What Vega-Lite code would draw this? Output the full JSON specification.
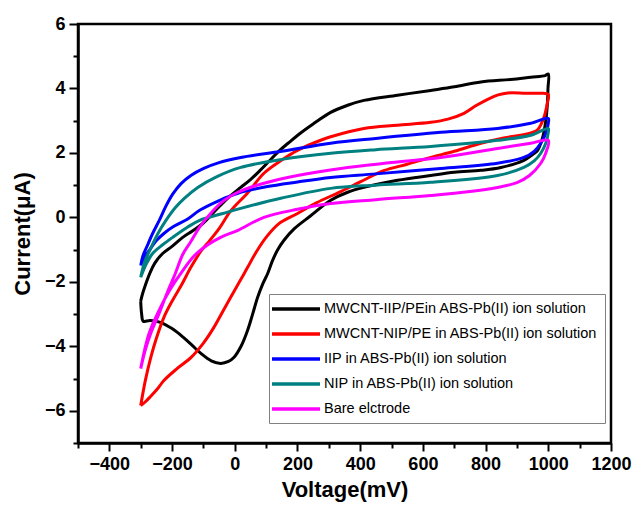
{
  "$schema": "https://vega.github.io/schema/vega-lite/v6.json",
  "width": 533,
  "height": 419,
  "autosize": "none",
  "padding": {"left": 78, "top": 24, "right": 24, "bottom": 65},
  "background": "white",
  "config": {
    "view": {"stroke": "black", "strokeWidth": 2.5},
    "font": "Liberation Sans"
  },
  "datasets": {
    "cv": [
      {"s":"MWCNT-IIP/PEin ABS-Pb(II) ion solution","i":0,"v":-300,"c":-2.6},
      {"s":"MWCNT-IIP/PEin ABS-Pb(II) ion solution","i":1,"v":-297,"c":-3.0},
      {"s":"MWCNT-IIP/PEin ABS-Pb(II) ion solution","i":2,"v":-292,"c":-3.22},
      {"s":"MWCNT-IIP/PEin ABS-Pb(II) ion solution","i":3,"v":-270,"c":-3.2},
      {"s":"MWCNT-IIP/PEin ABS-Pb(II) ion solution","i":4,"v":-240,"c":-3.25},
      {"s":"MWCNT-IIP/PEin ABS-Pb(II) ion solution","i":5,"v":-200,"c":-3.45},
      {"s":"MWCNT-IIP/PEin ABS-Pb(II) ion solution","i":6,"v":-163,"c":-3.73},
      {"s":"MWCNT-IIP/PEin ABS-Pb(II) ion solution","i":7,"v":-135,"c":-3.98},
      {"s":"MWCNT-IIP/PEin ABS-Pb(II) ion solution","i":8,"v":-108,"c":-4.22},
      {"s":"MWCNT-IIP/PEin ABS-Pb(II) ion solution","i":9,"v":-75,"c":-4.45},
      {"s":"MWCNT-IIP/PEin ABS-Pb(II) ion solution","i":10,"v":-45,"c":-4.53},
      {"s":"MWCNT-IIP/PEin ABS-Pb(II) ion solution","i":11,"v":-20,"c":-4.47},
      {"s":"MWCNT-IIP/PEin ABS-Pb(II) ion solution","i":12,"v":-3,"c":-4.35},
      {"s":"MWCNT-IIP/PEin ABS-Pb(II) ion solution","i":13,"v":20,"c":-4.0},
      {"s":"MWCNT-IIP/PEin ABS-Pb(II) ion solution","i":14,"v":41,"c":-3.5},
      {"s":"MWCNT-IIP/PEin ABS-Pb(II) ion solution","i":15,"v":57,"c":-3.0},
      {"s":"MWCNT-IIP/PEin ABS-Pb(II) ion solution","i":16,"v":73,"c":-2.48},
      {"s":"MWCNT-IIP/PEin ABS-Pb(II) ion solution","i":17,"v":90,"c":-2.05},
      {"s":"MWCNT-IIP/PEin ABS-Pb(II) ion solution","i":18,"v":105,"c":-1.74},
      {"s":"MWCNT-IIP/PEin ABS-Pb(II) ion solution","i":19,"v":120,"c":-1.35},
      {"s":"MWCNT-IIP/PEin ABS-Pb(II) ion solution","i":20,"v":136,"c":-1.02},
      {"s":"MWCNT-IIP/PEin ABS-Pb(II) ion solution","i":21,"v":157,"c":-0.71},
      {"s":"MWCNT-IIP/PEin ABS-Pb(II) ion solution","i":22,"v":190,"c":-0.35},
      {"s":"MWCNT-IIP/PEin ABS-Pb(II) ion solution","i":23,"v":242,"c":0.05},
      {"s":"MWCNT-IIP/PEin ABS-Pb(II) ion solution","i":24,"v":306,"c":0.53},
      {"s":"MWCNT-IIP/PEin ABS-Pb(II) ion solution","i":25,"v":360,"c":0.78},
      {"s":"MWCNT-IIP/PEin ABS-Pb(II) ion solution","i":26,"v":412,"c":0.93},
      {"s":"MWCNT-IIP/PEin ABS-Pb(II) ion solution","i":27,"v":519,"c":1.15},
      {"s":"MWCNT-IIP/PEin ABS-Pb(II) ion solution","i":28,"v":625,"c":1.3},
      {"s":"MWCNT-IIP/PEin ABS-Pb(II) ion solution","i":29,"v":700,"c":1.4},
      {"s":"MWCNT-IIP/PEin ABS-Pb(II) ion solution","i":30,"v":785,"c":1.46},
      {"s":"MWCNT-IIP/PEin ABS-Pb(II) ion solution","i":31,"v":849,"c":1.55},
      {"s":"MWCNT-IIP/PEin ABS-Pb(II) ion solution","i":32,"v":922,"c":1.77},
      {"s":"MWCNT-IIP/PEin ABS-Pb(II) ion solution","i":33,"v":950,"c":1.95},
      {"s":"MWCNT-IIP/PEin ABS-Pb(II) ion solution","i":34,"v":966,"c":2.08},
      {"s":"MWCNT-IIP/PEin ABS-Pb(II) ion solution","i":35,"v":982,"c":2.48},
      {"s":"MWCNT-IIP/PEin ABS-Pb(II) ion solution","i":36,"v":992,"c":3.0},
      {"s":"MWCNT-IIP/PEin ABS-Pb(II) ion solution","i":37,"v":997,"c":3.5},
      {"s":"MWCNT-IIP/PEin ABS-Pb(II) ion solution","i":38,"v":999,"c":4.0},
      {"s":"MWCNT-IIP/PEin ABS-Pb(II) ion solution","i":39,"v":1000,"c":4.45},
      {"s":"MWCNT-IIP/PEin ABS-Pb(II) ion solution","i":40,"v":990,"c":4.4},
      {"s":"MWCNT-IIP/PEin ABS-Pb(II) ion solution","i":41,"v":944,"c":4.35},
      {"s":"MWCNT-IIP/PEin ABS-Pb(II) ion solution","i":42,"v":880,"c":4.28},
      {"s":"MWCNT-IIP/PEin ABS-Pb(II) ion solution","i":43,"v":785,"c":4.2},
      {"s":"MWCNT-IIP/PEin ABS-Pb(II) ion solution","i":44,"v":700,"c":4.05},
      {"s":"MWCNT-IIP/PEin ABS-Pb(II) ion solution","i":45,"v":625,"c":3.94},
      {"s":"MWCNT-IIP/PEin ABS-Pb(II) ion solution","i":46,"v":519,"c":3.79},
      {"s":"MWCNT-IIP/PEin ABS-Pb(II) ion solution","i":47,"v":412,"c":3.63},
      {"s":"MWCNT-IIP/PEin ABS-Pb(II) ion solution","i":48,"v":360,"c":3.48},
      {"s":"MWCNT-IIP/PEin ABS-Pb(II) ion solution","i":49,"v":306,"c":3.26},
      {"s":"MWCNT-IIP/PEin ABS-Pb(II) ion solution","i":50,"v":250,"c":2.9},
      {"s":"MWCNT-IIP/PEin ABS-Pb(II) ion solution","i":51,"v":210,"c":2.62},
      {"s":"MWCNT-IIP/PEin ABS-Pb(II) ion solution","i":52,"v":170,"c":2.3},
      {"s":"MWCNT-IIP/PEin ABS-Pb(II) ion solution","i":53,"v":140,"c":2.05},
      {"s":"MWCNT-IIP/PEin ABS-Pb(II) ion solution","i":54,"v":110,"c":1.75},
      {"s":"MWCNT-IIP/PEin ABS-Pb(II) ion solution","i":55,"v":80,"c":1.45},
      {"s":"MWCNT-IIP/PEin ABS-Pb(II) ion solution","i":56,"v":51,"c":1.18},
      {"s":"MWCNT-IIP/PEin ABS-Pb(II) ion solution","i":57,"v":19,"c":0.93},
      {"s":"MWCNT-IIP/PEin ABS-Pb(II) ion solution","i":58,"v":-22,"c":0.6},
      {"s":"MWCNT-IIP/PEin ABS-Pb(II) ion solution","i":59,"v":-61,"c":0.22},
      {"s":"MWCNT-IIP/PEin ABS-Pb(II) ion solution","i":60,"v":-102,"c":-0.19},
      {"s":"MWCNT-IIP/PEin ABS-Pb(II) ion solution","i":61,"v":-135,"c":-0.42},
      {"s":"MWCNT-IIP/PEin ABS-Pb(II) ion solution","i":62,"v":-166,"c":-0.62},
      {"s":"MWCNT-IIP/PEin ABS-Pb(II) ion solution","i":63,"v":-200,"c":-0.9},
      {"s":"MWCNT-IIP/PEin ABS-Pb(II) ion solution","i":64,"v":-230,"c":-1.12},
      {"s":"MWCNT-IIP/PEin ABS-Pb(II) ion solution","i":65,"v":-255,"c":-1.42},
      {"s":"MWCNT-IIP/PEin ABS-Pb(II) ion solution","i":66,"v":-271,"c":-1.74},
      {"s":"MWCNT-IIP/PEin ABS-Pb(II) ion solution","i":67,"v":-285,"c":-2.1},
      {"s":"MWCNT-IIP/PEin ABS-Pb(II) ion solution","i":68,"v":-295,"c":-2.4},
      {"s":"MWCNT-IIP/PEin ABS-Pb(II) ion solution","i":69,"v":-300,"c":-2.6},

      {"s":"MWCNT-NIP/PE in ABS-Pb(II) ion solution","i":0,"v":-300,"c":-5.84},
      {"s":"MWCNT-NIP/PE in ABS-Pb(II) ion solution","i":1,"v":-285,"c":-5.72},
      {"s":"MWCNT-NIP/PE in ABS-Pb(II) ion solution","i":2,"v":-268,"c":-5.55},
      {"s":"MWCNT-NIP/PE in ABS-Pb(II) ion solution","i":3,"v":-245,"c":-5.3},
      {"s":"MWCNT-NIP/PE in ABS-Pb(II) ion solution","i":4,"v":-226,"c":-5.06},
      {"s":"MWCNT-NIP/PE in ABS-Pb(II) ion solution","i":5,"v":-185,"c":-4.7},
      {"s":"MWCNT-NIP/PE in ABS-Pb(II) ion solution","i":6,"v":-140,"c":-4.35},
      {"s":"MWCNT-NIP/PE in ABS-Pb(II) ion solution","i":7,"v":-100,"c":-3.9},
      {"s":"MWCNT-NIP/PE in ABS-Pb(II) ion solution","i":8,"v":-67,"c":-3.42},
      {"s":"MWCNT-NIP/PE in ABS-Pb(II) ion solution","i":9,"v":-40,"c":-2.95},
      {"s":"MWCNT-NIP/PE in ABS-Pb(II) ion solution","i":10,"v":-13,"c":-2.48},
      {"s":"MWCNT-NIP/PE in ABS-Pb(II) ion solution","i":11,"v":15,"c":-2.0},
      {"s":"MWCNT-NIP/PE in ABS-Pb(II) ion solution","i":12,"v":41,"c":-1.55},
      {"s":"MWCNT-NIP/PE in ABS-Pb(II) ion solution","i":13,"v":70,"c":-1.05},
      {"s":"MWCNT-NIP/PE in ABS-Pb(II) ion solution","i":14,"v":100,"c":-0.62},
      {"s":"MWCNT-NIP/PE in ABS-Pb(II) ion solution","i":15,"v":140,"c":-0.2},
      {"s":"MWCNT-NIP/PE in ABS-Pb(II) ion solution","i":16,"v":200,"c":0.12},
      {"s":"MWCNT-NIP/PE in ABS-Pb(II) ion solution","i":17,"v":260,"c":0.45},
      {"s":"MWCNT-NIP/PE in ABS-Pb(II) ion solution","i":18,"v":338,"c":0.8},
      {"s":"MWCNT-NIP/PE in ABS-Pb(II) ion solution","i":19,"v":400,"c":1.1},
      {"s":"MWCNT-NIP/PE in ABS-Pb(II) ion solution","i":20,"v":475,"c":1.45},
      {"s":"MWCNT-NIP/PE in ABS-Pb(II) ion solution","i":21,"v":550,"c":1.65},
      {"s":"MWCNT-NIP/PE in ABS-Pb(II) ion solution","i":22,"v":625,"c":1.86},
      {"s":"MWCNT-NIP/PE in ABS-Pb(II) ion solution","i":23,"v":700,"c":2.05},
      {"s":"MWCNT-NIP/PE in ABS-Pb(II) ion solution","i":24,"v":785,"c":2.3},
      {"s":"MWCNT-NIP/PE in ABS-Pb(II) ion solution","i":25,"v":850,"c":2.45},
      {"s":"MWCNT-NIP/PE in ABS-Pb(II) ion solution","i":26,"v":912,"c":2.55},
      {"s":"MWCNT-NIP/PE in ABS-Pb(II) ion solution","i":27,"v":945,"c":2.62},
      {"s":"MWCNT-NIP/PE in ABS-Pb(II) ion solution","i":28,"v":966,"c":2.72},
      {"s":"MWCNT-NIP/PE in ABS-Pb(II) ion solution","i":29,"v":986,"c":3.1},
      {"s":"MWCNT-NIP/PE in ABS-Pb(II) ion solution","i":30,"v":996,"c":3.5},
      {"s":"MWCNT-NIP/PE in ABS-Pb(II) ion solution","i":31,"v":1000,"c":3.82},
      {"s":"MWCNT-NIP/PE in ABS-Pb(II) ion solution","i":32,"v":985,"c":3.85},
      {"s":"MWCNT-NIP/PE in ABS-Pb(II) ion solution","i":33,"v":930,"c":3.85},
      {"s":"MWCNT-NIP/PE in ABS-Pb(II) ion solution","i":34,"v":871,"c":3.86},
      {"s":"MWCNT-NIP/PE in ABS-Pb(II) ion solution","i":35,"v":840,"c":3.8},
      {"s":"MWCNT-NIP/PE in ABS-Pb(II) ion solution","i":36,"v":810,"c":3.68},
      {"s":"MWCNT-NIP/PE in ABS-Pb(II) ion solution","i":37,"v":770,"c":3.47},
      {"s":"MWCNT-NIP/PE in ABS-Pb(II) ion solution","i":38,"v":731,"c":3.23},
      {"s":"MWCNT-NIP/PE in ABS-Pb(II) ion solution","i":39,"v":680,"c":3.05},
      {"s":"MWCNT-NIP/PE in ABS-Pb(II) ion solution","i":40,"v":625,"c":2.95},
      {"s":"MWCNT-NIP/PE in ABS-Pb(II) ion solution","i":41,"v":519,"c":2.86},
      {"s":"MWCNT-NIP/PE in ABS-Pb(II) ion solution","i":42,"v":412,"c":2.76},
      {"s":"MWCNT-NIP/PE in ABS-Pb(II) ion solution","i":43,"v":306,"c":2.5},
      {"s":"MWCNT-NIP/PE in ABS-Pb(II) ion solution","i":44,"v":250,"c":2.3},
      {"s":"MWCNT-NIP/PE in ABS-Pb(II) ion solution","i":45,"v":200,"c":2.08},
      {"s":"MWCNT-NIP/PE in ABS-Pb(II) ion solution","i":46,"v":150,"c":1.78},
      {"s":"MWCNT-NIP/PE in ABS-Pb(II) ion solution","i":47,"v":93,"c":1.37},
      {"s":"MWCNT-NIP/PE in ABS-Pb(II) ion solution","i":48,"v":40,"c":0.75},
      {"s":"MWCNT-NIP/PE in ABS-Pb(II) ion solution","i":49,"v":-13,"c":0.2},
      {"s":"MWCNT-NIP/PE in ABS-Pb(II) ion solution","i":50,"v":-50,"c":-0.35},
      {"s":"MWCNT-NIP/PE in ABS-Pb(II) ion solution","i":51,"v":-80,"c":-0.72},
      {"s":"MWCNT-NIP/PE in ABS-Pb(II) ion solution","i":52,"v":-108,"c":-1.05},
      {"s":"MWCNT-NIP/PE in ABS-Pb(II) ion solution","i":53,"v":-140,"c":-1.55},
      {"s":"MWCNT-NIP/PE in ABS-Pb(II) ion solution","i":54,"v":-170,"c":-2.1},
      {"s":"MWCNT-NIP/PE in ABS-Pb(II) ion solution","i":55,"v":-200,"c":-2.6},
      {"s":"MWCNT-NIP/PE in ABS-Pb(II) ion solution","i":56,"v":-226,"c":-3.1},
      {"s":"MWCNT-NIP/PE in ABS-Pb(II) ion solution","i":57,"v":-250,"c":-3.75},
      {"s":"MWCNT-NIP/PE in ABS-Pb(II) ion solution","i":58,"v":-268,"c":-4.35},
      {"s":"MWCNT-NIP/PE in ABS-Pb(II) ion solution","i":59,"v":-285,"c":-5.05},
      {"s":"MWCNT-NIP/PE in ABS-Pb(II) ion solution","i":60,"v":-300,"c":-5.84},

      {"s":"IIP in ABS-Pb(II) ion solution","i":0,"v":-300,"c":-1.49},
      {"s":"IIP in ABS-Pb(II) ion solution","i":1,"v":-290,"c":-1.28},
      {"s":"IIP in ABS-Pb(II) ion solution","i":2,"v":-271,"c":-1.0},
      {"s":"IIP in ABS-Pb(II) ion solution","i":3,"v":-250,"c":-0.72},
      {"s":"IIP in ABS-Pb(II) ion solution","i":4,"v":-226,"c":-0.5},
      {"s":"IIP in ABS-Pb(II) ion solution","i":5,"v":-198,"c":-0.3},
      {"s":"IIP in ABS-Pb(II) ion solution","i":6,"v":-150,"c":-0.05},
      {"s":"IIP in ABS-Pb(II) ion solution","i":7,"v":-112,"c":0.22},
      {"s":"IIP in ABS-Pb(II) ion solution","i":8,"v":-48,"c":0.53},
      {"s":"IIP in ABS-Pb(II) ion solution","i":9,"v":10,"c":0.75},
      {"s":"IIP in ABS-Pb(II) ion solution","i":10,"v":100,"c":0.95},
      {"s":"IIP in ABS-Pb(II) ion solution","i":11,"v":200,"c":1.1},
      {"s":"IIP in ABS-Pb(II) ion solution","i":12,"v":306,"c":1.24},
      {"s":"IIP in ABS-Pb(II) ion solution","i":13,"v":450,"c":1.35},
      {"s":"IIP in ABS-Pb(II) ion solution","i":14,"v":657,"c":1.52},
      {"s":"IIP in ABS-Pb(II) ion solution","i":15,"v":838,"c":1.68},
      {"s":"IIP in ABS-Pb(II) ion solution","i":16,"v":922,"c":1.86},
      {"s":"IIP in ABS-Pb(II) ion solution","i":17,"v":955,"c":2.05},
      {"s":"IIP in ABS-Pb(II) ion solution","i":18,"v":976,"c":2.3},
      {"s":"IIP in ABS-Pb(II) ion solution","i":19,"v":992,"c":2.6},
      {"s":"IIP in ABS-Pb(II) ion solution","i":20,"v":1000,"c":2.92},
      {"s":"IIP in ABS-Pb(II) ion solution","i":21,"v":1000,"c":3.07},
      {"s":"IIP in ABS-Pb(II) ion solution","i":22,"v":944,"c":2.92},
      {"s":"IIP in ABS-Pb(II) ion solution","i":23,"v":838,"c":2.76},
      {"s":"IIP in ABS-Pb(II) ion solution","i":24,"v":657,"c":2.64},
      {"s":"IIP in ABS-Pb(II) ion solution","i":25,"v":450,"c":2.45},
      {"s":"IIP in ABS-Pb(II) ion solution","i":26,"v":306,"c":2.3},
      {"s":"IIP in ABS-Pb(II) ion solution","i":27,"v":150,"c":2.05},
      {"s":"IIP in ABS-Pb(II) ion solution","i":28,"v":19,"c":1.86},
      {"s":"IIP in ABS-Pb(II) ion solution","i":29,"v":-50,"c":1.7},
      {"s":"IIP in ABS-Pb(II) ion solution","i":30,"v":-99,"c":1.52},
      {"s":"IIP in ABS-Pb(II) ion solution","i":31,"v":-140,"c":1.3},
      {"s":"IIP in ABS-Pb(II) ion solution","i":32,"v":-172,"c":1.04},
      {"s":"IIP in ABS-Pb(II) ion solution","i":33,"v":-198,"c":0.72},
      {"s":"IIP in ABS-Pb(II) ion solution","i":34,"v":-220,"c":0.34},
      {"s":"IIP in ABS-Pb(II) ion solution","i":35,"v":-240,"c":-0.08},
      {"s":"IIP in ABS-Pb(II) ion solution","i":36,"v":-262,"c":-0.5},
      {"s":"IIP in ABS-Pb(II) ion solution","i":37,"v":-280,"c":-0.9},
      {"s":"IIP in ABS-Pb(II) ion solution","i":38,"v":-293,"c":-1.2},
      {"s":"IIP in ABS-Pb(II) ion solution","i":39,"v":-300,"c":-1.49},

      {"s":"NIP in ABS-Pb(II) ion solution","i":0,"v":-300,"c":-1.86},
      {"s":"NIP in ABS-Pb(II) ion solution","i":1,"v":-285,"c":-1.5},
      {"s":"NIP in ABS-Pb(II) ion solution","i":2,"v":-262,"c":-1.12},
      {"s":"NIP in ABS-Pb(II) ion solution","i":3,"v":-230,"c":-0.85},
      {"s":"NIP in ABS-Pb(II) ion solution","i":4,"v":-198,"c":-0.62},
      {"s":"NIP in ABS-Pb(II) ion solution","i":5,"v":-150,"c":-0.3},
      {"s":"NIP in ABS-Pb(II) ion solution","i":6,"v":-112,"c":-0.09},
      {"s":"NIP in ABS-Pb(II) ion solution","i":7,"v":-38,"c":0.12},
      {"s":"NIP in ABS-Pb(II) ion solution","i":8,"v":19,"c":0.28},
      {"s":"NIP in ABS-Pb(II) ion solution","i":9,"v":150,"c":0.6},
      {"s":"NIP in ABS-Pb(II) ion solution","i":10,"v":306,"c":0.9},
      {"s":"NIP in ABS-Pb(II) ion solution","i":11,"v":450,"c":1.0},
      {"s":"NIP in ABS-Pb(II) ion solution","i":12,"v":625,"c":1.09},
      {"s":"NIP in ABS-Pb(II) ion solution","i":13,"v":838,"c":1.3},
      {"s":"NIP in ABS-Pb(II) ion solution","i":14,"v":922,"c":1.55},
      {"s":"NIP in ABS-Pb(II) ion solution","i":15,"v":955,"c":1.75},
      {"s":"NIP in ABS-Pb(II) ion solution","i":16,"v":976,"c":1.99},
      {"s":"NIP in ABS-Pb(II) ion solution","i":17,"v":992,"c":2.3},
      {"s":"NIP in ABS-Pb(II) ion solution","i":18,"v":1000,"c":2.64},
      {"s":"NIP in ABS-Pb(II) ion solution","i":19,"v":1000,"c":2.76},
      {"s":"NIP in ABS-Pb(II) ion solution","i":20,"v":944,"c":2.55},
      {"s":"NIP in ABS-Pb(II) ion solution","i":21,"v":838,"c":2.39},
      {"s":"NIP in ABS-Pb(II) ion solution","i":22,"v":625,"c":2.2},
      {"s":"NIP in ABS-Pb(II) ion solution","i":23,"v":450,"c":2.1},
      {"s":"NIP in ABS-Pb(II) ion solution","i":24,"v":306,"c":1.99},
      {"s":"NIP in ABS-Pb(II) ion solution","i":25,"v":150,"c":1.8},
      {"s":"NIP in ABS-Pb(II) ion solution","i":26,"v":19,"c":1.55},
      {"s":"NIP in ABS-Pb(II) ion solution","i":27,"v":-60,"c":1.25},
      {"s":"NIP in ABS-Pb(II) ion solution","i":28,"v":-118,"c":0.93},
      {"s":"NIP in ABS-Pb(II) ion solution","i":29,"v":-160,"c":0.6},
      {"s":"NIP in ABS-Pb(II) ion solution","i":30,"v":-190,"c":0.3},
      {"s":"NIP in ABS-Pb(II) ion solution","i":31,"v":-220,"c":-0.1},
      {"s":"NIP in ABS-Pb(II) ion solution","i":32,"v":-245,"c":-0.5},
      {"s":"NIP in ABS-Pb(II) ion solution","i":33,"v":-270,"c":-1.0},
      {"s":"NIP in ABS-Pb(II) ion solution","i":34,"v":-288,"c":-1.4},
      {"s":"NIP in ABS-Pb(II) ion solution","i":35,"v":-300,"c":-1.86},

      {"s":"Bare elctrode","i":0,"v":-300,"c":-4.69},
      {"s":"Bare elctrode","i":1,"v":-275,"c":-3.65},
      {"s":"Bare elctrode","i":2,"v":-246,"c":-2.98},
      {"s":"Bare elctrode","i":3,"v":-210,"c":-2.3},
      {"s":"Bare elctrode","i":4,"v":-172,"c":-1.74},
      {"s":"Bare elctrode","i":5,"v":-130,"c":-1.2},
      {"s":"Bare elctrode","i":6,"v":-86,"c":-0.85},
      {"s":"Bare elctrode","i":7,"v":-45,"c":-0.62},
      {"s":"Bare elctrode","i":8,"v":10,"c":-0.4},
      {"s":"Bare elctrode","i":9,"v":93,"c":0.0},
      {"s":"Bare elctrode","i":10,"v":200,"c":0.25},
      {"s":"Bare elctrode","i":11,"v":306,"c":0.43},
      {"s":"Bare elctrode","i":12,"v":450,"c":0.55},
      {"s":"Bare elctrode","i":13,"v":625,"c":0.68},
      {"s":"Bare elctrode","i":14,"v":750,"c":0.8},
      {"s":"Bare elctrode","i":15,"v":838,"c":0.93},
      {"s":"Bare elctrode","i":16,"v":900,"c":1.08},
      {"s":"Bare elctrode","i":17,"v":940,"c":1.3},
      {"s":"Bare elctrode","i":18,"v":976,"c":1.68},
      {"s":"Bare elctrode","i":19,"v":992,"c":2.0},
      {"s":"Bare elctrode","i":20,"v":1000,"c":2.39},
      {"s":"Bare elctrode","i":21,"v":944,"c":2.3},
      {"s":"Bare elctrode","i":22,"v":838,"c":2.14},
      {"s":"Bare elctrode","i":23,"v":657,"c":1.86},
      {"s":"Bare elctrode","i":24,"v":500,"c":1.7},
      {"s":"Bare elctrode","i":25,"v":338,"c":1.52},
      {"s":"Bare elctrode","i":26,"v":200,"c":1.3},
      {"s":"Bare elctrode","i":27,"v":93,"c":1.06},
      {"s":"Bare elctrode","i":28,"v":10,"c":0.78},
      {"s":"Bare elctrode","i":29,"v":-35,"c":0.52},
      {"s":"Bare elctrode","i":30,"v":-70,"c":0.2},
      {"s":"Bare elctrode","i":31,"v":-112,"c":-0.3},
      {"s":"Bare elctrode","i":32,"v":-140,"c":-0.75},
      {"s":"Bare elctrode","i":33,"v":-166,"c":-1.15},
      {"s":"Bare elctrode","i":34,"v":-190,"c":-1.75},
      {"s":"Bare elctrode","i":35,"v":-214,"c":-2.3},
      {"s":"Bare elctrode","i":36,"v":-240,"c":-2.95},
      {"s":"Bare elctrode","i":37,"v":-268,"c":-3.6},
      {"s":"Bare elctrode","i":38,"v":-285,"c":-4.1},
      {"s":"Bare elctrode","i":39,"v":-300,"c":-4.69}
    ]
  },
  "data": {"name": "cv"},
  "mark": {"type": "line", "strokeWidth": 3, "interpolate": "catmull-rom", "clip": true},
  "encoding": {
    "x": {
      "field": "v",
      "type": "quantitative",
      "scale": {"domain": [-500, 1200], "nice": false, "zero": false},
      "axis": {
        "title": "Voltage(mV)",
        "values": [-500,-400,-300,-200,-100,0,100,200,300,400,500,600,700,800,900,1000,1100,1200],
        "labelExpr": "datum.value % 200 == 0 ? datum.label : ''",
        "format": "d",
        "grid": false,
        "domainColor": "black",
        "domainWidth": 2.5,
        "tickColor": "black",
        "tickWidth": 2,
        "tickSize": {"condition": {"test": "datum.value % 200 == 0", "value": 8}, "value": 5},
        "labelFont": "Liberation Sans",
        "labelFontWeight": "bold",
        "labelFontSize": 18,
        "labelColor": "black",
        "labelPadding": 4,
        "labelFlush": false,
        "labelOverlap": false,
        "titleFont": "Liberation Sans",
        "titleFontWeight": "bold",
        "titleFontSize": 22,
        "titleColor": "black",
        "titlePadding": 6
      }
    },
    "y": {
      "field": "c",
      "type": "quantitative",
      "scale": {"domain": [-7, 6], "nice": false, "zero": false},
      "axis": {
        "title": "Current(μA)",
        "values": [-7,-6,-5,-4,-3,-2,-1,0,1,2,3,4,5,6],
        "labelExpr": "datum.value % 2 == 0 ? datum.label : ''",
        "grid": false,
        "domainColor": "black",
        "domainWidth": 2.5,
        "tickColor": "black",
        "tickWidth": 2,
        "tickSize": {"condition": {"test": "datum.value % 2 == 0", "value": 9}, "value": 5},
        "labelFont": "Liberation Sans",
        "labelFontWeight": "bold",
        "labelFontSize": 18,
        "labelColor": "black",
        "labelPadding": 4,
        "labelFlush": false,
        "labelOverlap": false,
        "titleFont": "Liberation Sans",
        "titleFontWeight": "bold",
        "titleFontSize": 22,
        "titleColor": "black",
        "titlePadding": 10
      }
    },
    "color": {
      "field": "s",
      "type": "nominal",
      "scale": {
        "domain": [
          "MWCNT-IIP/PEin ABS-Pb(II) ion solution",
          "MWCNT-NIP/PE in ABS-Pb(II) ion solution",
          "IIP in ABS-Pb(II) ion solution",
          "NIP in ABS-Pb(II) ion solution",
          "Bare elctrode"
        ],
        "range": ["#000000", "#ff0000", "#0000ff", "#008080", "#ff00ff"]
      },
      "legend": {
        "title": null,
        "orient": "none",
        "legendX": 191,
        "legendY": 270,
        "symbolType": "M-2,0H6",
        "symbolSize": 144,
        "symbolStrokeWidth": 3.5,
        "labelFont": "Liberation Sans",
        "labelFontSize": 14.5,
        "labelColor": "black",
        "labelLimit": 400,
        "labelOffset": 32,
        "rowPadding": 10,
        "padding": 7,
        "strokeColor": "#808080",
        "fillColor": "white"
      }
    },
    "order": {"field": "i", "type": "quantitative"}
  }
}
